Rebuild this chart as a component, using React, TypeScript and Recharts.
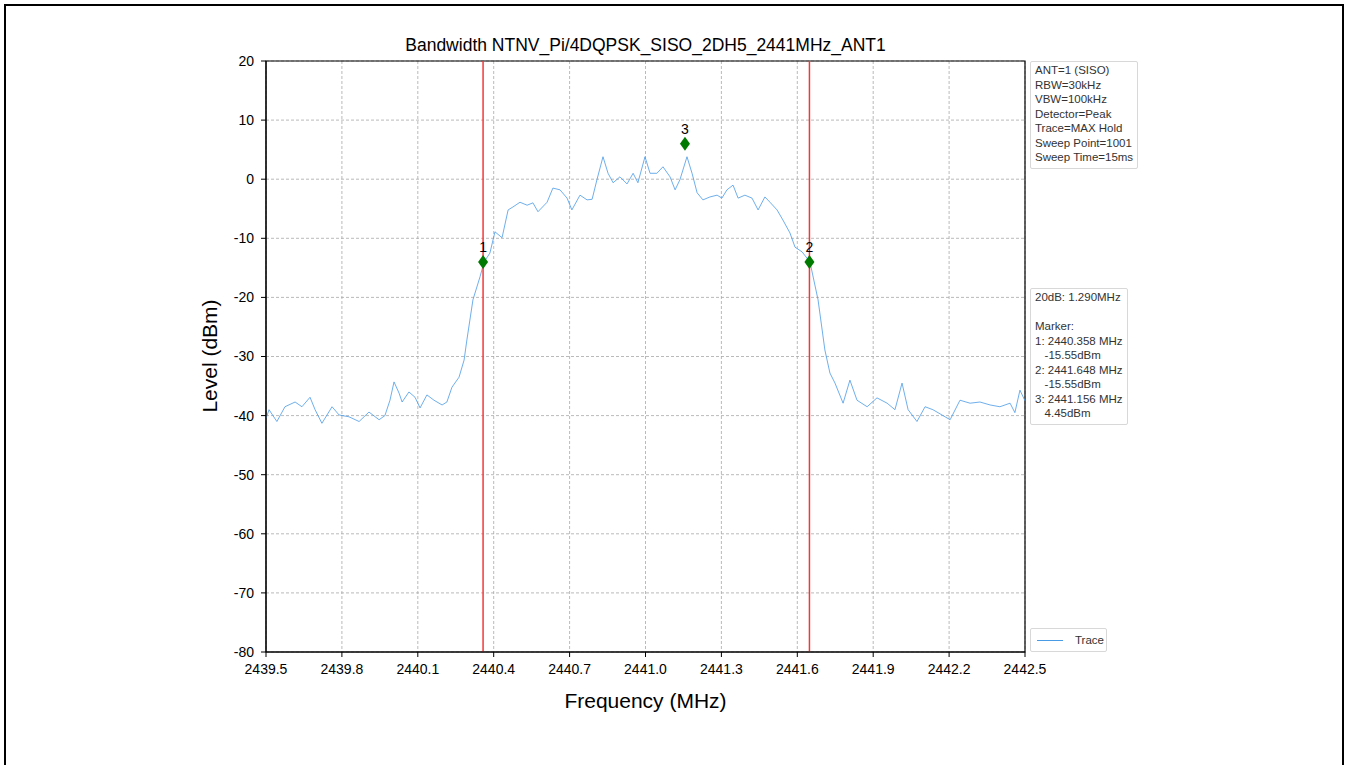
import React from "react";
import {
  ComposedChart, Line, Scatter, XAxis, YAxis, CartesianGrid, ReferenceLine, ReferenceArea,
} from "recharts";

// trace samples (MHz / dBm)
const FREQS = [
  2439.5, 2439.512, 2439.543, 2439.575, 2439.615, 2439.642, 2439.674, 2439.694, 2439.721, 2439.761,
  2439.789, 2439.828, 2439.868, 2439.907, 2439.947, 2439.97, 2439.99, 2440.006, 2440.026, 2440.038,
  2440.065, 2440.089, 2440.109, 2440.136, 2440.164, 2440.196, 2440.215, 2440.235, 2440.263, 2440.283,
  2440.294, 2440.318, 2440.346, 2440.362, 2440.385, 2440.405, 2440.433, 2440.457, 2440.476, 2440.504,
  2440.532, 2440.555, 2440.575, 2440.611, 2440.634, 2440.662, 2440.69, 2440.709, 2440.741, 2440.769,
  2440.789, 2440.808, 2440.832, 2440.852, 2440.872, 2440.899, 2440.927, 2440.951, 2440.97, 2440.998,
  2441.018, 2441.045, 2441.069, 2441.097, 2441.117, 2441.136, 2441.164, 2441.184, 2441.204, 2441.227,
  2441.255, 2441.283, 2441.302, 2441.322, 2441.346, 2441.366, 2441.393, 2441.421, 2441.445, 2441.472,
  2441.492, 2441.52, 2441.543, 2441.571, 2441.591, 2441.619, 2441.65, 2441.682, 2441.709, 2441.729,
  2441.749, 2441.781, 2441.808, 2441.836, 2441.876, 2441.915, 2441.955, 2441.986, 2442.014, 2442.038,
  2442.073, 2442.105, 2442.136, 2442.172, 2442.204, 2442.243, 2442.283, 2442.322, 2442.362, 2442.401,
  2442.441, 2442.46, 2442.48, 2442.5,
];
const LEVELS = [
  -40.5, -39.0, -41.0, -38.5, -37.7, -38.5, -36.9, -39.0, -41.3, -38.5,
  -39.9, -40.2, -41.0, -39.4, -40.7, -40.0, -37.4, -34.3, -36.2, -37.7,
  -36.0, -36.9, -38.7, -36.5, -37.4, -38.2, -37.7, -35.2, -33.5, -30.6,
  -27.2, -20.4, -16.5, -14.0, -12.5, -8.9, -9.9, -5.2, -4.7, -3.9,
  -4.4, -4.0, -5.5, -3.9, -1.5, -1.8, -3.2, -5.2, -2.7, -3.5,
  -3.4, -0.1, 3.8, 1.0, -0.6, 0.4, -0.8, 1.0, -0.6, 3.8,
  1.0, 1.0, 2.1, 0.4, -1.8, -0.1, 3.8, 1.0, -2.3, -3.5,
  -3.0, -2.7, -3.2, -1.8, -1.0, -3.2, -2.7, -3.2, -5.2, -3.0,
  -3.9, -5.2, -6.9, -9.1, -11.5, -12.3, -14.0, -20.4, -28.9, -32.8,
  -34.5, -37.9, -34.0, -37.4, -38.5, -37.0, -37.9, -39.0, -34.5, -39.0,
  -41.0, -38.5, -39.0, -39.9, -40.7, -37.4, -37.9, -37.7, -38.2, -38.5,
  -37.9, -39.5, -35.7, -37.5,
];

const MARKER_IDS = ["1", "2", "3"];
const MARKER_FREQS = [2440.358, 2441.648, 2441.156];
const MARKER_LEVELS = [-14, -14, 6];
const BAND_EDGES = [2440.358, 2441.648];

const X_TICKS = [2439.5, 2439.8, 2440.1, 2440.4, 2440.7, 2441.0, 2441.3, 2441.6, 2441.9, 2442.2, 2442.5];
const Y_TICKS = [20, 10, 0, -10, -20, -30, -40, -50, -60, -70, -80];

const TITLE = "Bandwidth NTNV_Pi/4DQPSK_SISO_2DH5_2441MHz_ANT1";
const SETTINGS = [
  "ANT=1 (SISO)", "RBW=30kHz", "VBW=100kHz", "Detector=Peak",
  "Trace=MAX Hold", "Sweep Point=1001", "Sweep Time=15ms",
];
const RESULT = [
  "20dB: 1.290MHz", "", "Marker:", "1: 2440.358 MHz", "   -15.55dBm",
  "2: 2441.648 MHz", "   -15.55dBm", "3: 2441.156 MHz", "   4.45dBm",
];

const trace = FREQS.map((f, i) => ({ freq: f, level: LEVELS[i] }));
const markers = MARKER_IDS.map((id, i) => ({ id, freq: MARKER_FREQS[i], level: MARKER_LEVELS[i] }));

const FONT = "'Liberation Sans', Arial, sans-serif";
const TRACE_COLOR = "#4a9be6";

const MarkerShape = (props: any) => {
  const { cx, cy, payload } = props;
  return (
    <g>
      <polygon points={`${cx},${cy - 7} ${cx + 5},${cy} ${cx},${cy + 7} ${cx - 5},${cy}`} fill="#007a00" />
      <text x={cx} y={cy - 10} textAnchor="middle" fontSize={14} fontFamily={FONT} fill="#000">{payload.id}</text>
    </g>
  );
};

const InfoBox = ({ lines, left, top }: { lines: string[]; left: number; top: number }) => (
  <div style={{
    position: "absolute", left, top, border: "1px solid #d8d8d8", borderRadius: 2,
    padding: "1px 4px 3px 4px", fontFamily: FONT, fontSize: 11.5, color: "#333",
    whiteSpace: "pre", boxSizing: "border-box", background: "#fff",
  }}>
    {lines.map((l, i) => <div key={i} style={{ height: 14.5, lineHeight: "14.5px" }}>{l}</div>)}
  </div>
);

export default function App() {
  return (
    <div style={{ position: "absolute", left: 0, top: 0, width: 1348, height: 765, overflow: "hidden", background: "#fff", fontFamily: FONT }}>
      <div style={{ position: "absolute", left: 4, top: 4, width: 1336, height: 800, border: "2px solid #000" }} />

      <div style={{ position: "absolute", left: 266, width: 759, top: 35, textAlign: "center", fontSize: 17.5, color: "#000" }}>{TITLE}</div>
      <div style={{ position: "absolute", left: 266, width: 759, top: 689, textAlign: "center", fontSize: 21, color: "#000" }}>Frequency (MHz)</div>
      <div style={{
        position: "absolute", left: 210, top: 356, fontSize: 21, color: "#000", whiteSpace: "nowrap",
        transform: "translate(-50%, -50%) rotate(-90deg)",
      }}>Level (dBm)</div>

      <ComposedChart width={1348} height={765} data={trace} margin={{ top: 61, right: 323, bottom: 83, left: 206 }}
        style={{ position: "absolute", left: 0, top: 0 }}>
        <CartesianGrid stroke="#a8a8a8" strokeWidth={0.8} strokeDasharray="3 2" />
        <XAxis dataKey="freq" type="number" domain={[2439.5, 2442.5]} ticks={X_TICKS} allowDataOverflow
          tickFormatter={(v: number) => v.toFixed(1)} height={30} tickSize={5} tickMargin={7}
          stroke="#000" tick={{ fill: "#000", fontSize: 14, fontFamily: FONT }} />
        <YAxis type="number" domain={[-80, 20]} ticks={Y_TICKS} allowDataOverflow width={60} tickSize={5} tickMargin={7}
          stroke="#000" tick={{ fill: "#000", fontSize: 14, fontFamily: FONT }} />
        <ReferenceArea x1={2439.5} x2={2442.5} y1={-80} y2={20} fill="none" stroke="#000" strokeWidth={1.2} />
        <Line dataKey="level" type="linear" stroke={TRACE_COLOR} strokeWidth={0.8} dot={false} isAnimationActive={false} />
        {BAND_EDGES.map((f) => (
          <ReferenceLine key={f} x={f} stroke="#f03a3a" strokeWidth={1.5} />
        ))}
        <Scatter data={markers} dataKey="level" shape={<MarkerShape />} isAnimationActive={false} />
      </ComposedChart>

      <InfoBox lines={SETTINGS} left={1030} top={61} />
      <InfoBox lines={RESULT} left={1030} top={288} />

      <div style={{
        position: "absolute", left: 1030, top: 628, width: 77, height: 24, boxSizing: "border-box",
        border: "1px solid #d8d8d8", borderRadius: 2, background: "#fff",
        display: "flex", alignItems: "center", fontFamily: FONT, fontSize: 11.5, color: "#333",
      }}>
        <span style={{ display: "inline-block", width: 26, height: 0, borderTop: `1.5px solid ${TRACE_COLOR}`, marginLeft: 6, marginRight: 12 }} />
        Trace
      </div>
    </div>
  );
}
